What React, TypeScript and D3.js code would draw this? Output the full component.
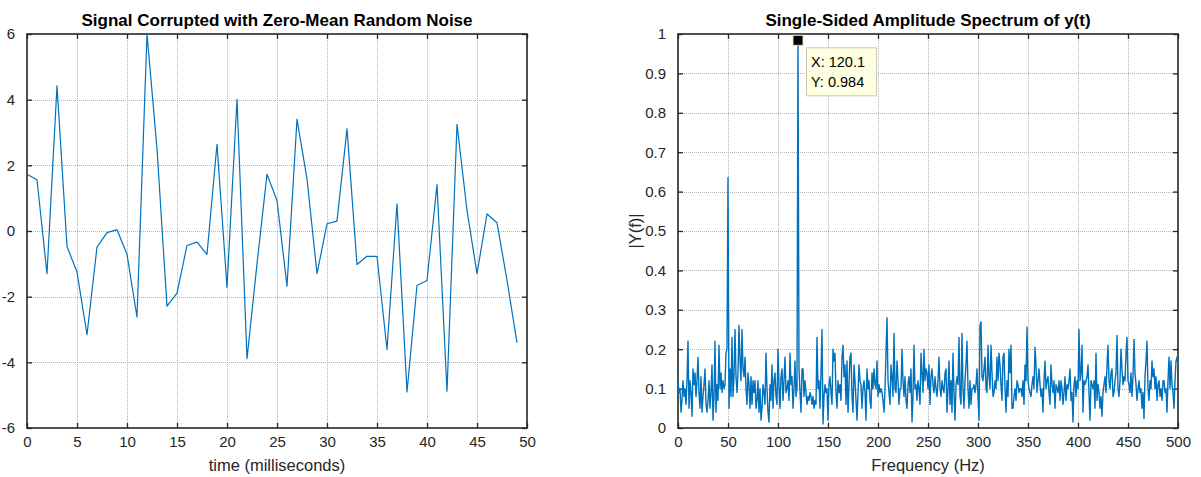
import React, { useEffect, useRef } from 'react';
import * as d3 from 'd3';

// time axis (ms) and the noisy signal
const timeMs = [0, 1, 2, 3, 4, 5, 6, 7, 8, 9, 10, 11, 12, 13, 14, 15, 16, 17, 18, 19,
  20, 21, 22, 23, 24, 25, 26, 27, 28, 29, 30, 31, 32, 33, 34, 35, 36, 37, 38, 39,
  40, 41, 42, 43, 44, 45, 46, 47, 48, 49];
const noisySignal = [1.73, 1.56, -1.3, 4.42, -0.47, -1.25, -3.16, -0.49, -0.05, 0.04,
  -0.71, -2.62, 6.0, 2.5, -2.29, -1.89, -0.44, -0.34, -0.71, 2.64,
  -1.71, 4.01, -3.89, -1.0, 1.73, 0.93, -1.68, 3.4, 1.59, -1.3,
  0.22, 0.3, 3.11, -1.02, -0.77, -0.77, -3.61, 0.83, -4.9, -1.66,
  -1.51, 1.41, -4.88, 3.25, 0.63, -1.3, 0.52, 0.25, -1.5, -3.41];

// single-sided amplitude, 0..500 Hz (one value per Hz)
const spectrumAmp = [
  0.12, 0.09, 0.10, 0.04, 0.07, 0.12, 0.08, 0.10, 0.06, 0.12,
  0.22, 0.05, 0.12, 0.09, 0.03, 0.15, 0.11, 0.14, 0.08, 0.12,
  0.18, 0.09, 0.05, 0.13, 0.04, 0.08, 0.11, 0.15, 0.06, 0.04,
  0.07, 0.12, 0.05, 0.09, 0.16, 0.02, 0.08, 0.22, 0.04, 0.11,
  0.07, 0.21, 0.10, 0.14, 0.09, 0.12, 0.10, 0.11, 0.19, 0.20,
  0.635, 0.05, 0.15, 0.08, 0.23, 0.08, 0.13, 0.25, 0.13, 0.09,
  0.14, 0.26, 0.17, 0.12, 0.25, 0.15, 0.13, 0.18, 0.10, 0.06,
  0.14, 0.11, 0.05, 0.13, 0.06, 0.12, 0.09, 0.12, 0.05, 0.07,
  0.12, 0.04, 0.10, 0.02, 0.05, 0.11, 0.09, 0.06, 0.19, 0.10,
  0.04, 0.015, 0.11, 0.07, 0.16, 0.05, 0.12, 0.14, 0.08, 0.06,
  0.20, 0.11, 0.05, 0.13, 0.15, 0.07, 0.12, 0.18, 0.09, 0.10,
  0.12, 0.07, 0.19, 0.11, 0.13, 0.05, 0.10, 0.17, 0.08, 0.10,
  0.984, 0.15, 0.09, 0.04, 0.15, 0.15, 0.08, 0.12, 0.09, 0.06,
  0.08, 0.07, 0.09, 0.08, 0.06, 0.08, 0.05, 0.07, 0.06, 0.23,
  0.10, 0.12, 0.05, 0.14, 0.25, 0.01, 0.08, 0.11, 0.09, 0.10,
  0.02, 0.11, 0.13, 0.09, 0.06, 0.20, 0.17, 0.19, 0.09, 0.05,
  0.12, 0.09, 0.11, 0.07, 0.18, 0.21, 0.13, 0.16, 0.06, 0.17,
  0.04, 0.11, 0.18, 0.19, 0.08, 0.04, 0.16, 0.12, 0.07, 0.02,
  0.09, 0.16, 0.12, 0.11, 0.05, 0.10, 0.12, 0.09, 0.02, 0.15,
  0.10, 0.12, 0.07, 0.05, 0.14, 0.10, 0.15, 0.11, 0.10, 0.17,
  0.08, 0.11, 0.09, 0.10, 0.09, 0.07, 0.04, 0.10, 0.19, 0.28,
  0.12, 0.09, 0.06, 0.16, 0.13, 0.08, 0.24, 0.10, 0.09, 0.17,
  0.12, 0.06, 0.10, 0.10, 0.20, 0.12, 0.08, 0.13, 0.07, 0.05,
  0.11, 0.13, 0.09, 0.15, 0.015, 0.08, 0.21, 0.10, 0.11, 0.07,
  0.12, 0.10, 0.06, 0.19, 0.14, 0.09, 0.20, 0.12, 0.15, 0.14,
  0.10, 0.16, 0.06, 0.13, 0.15, 0.11, 0.09, 0.13, 0.10, 0.08,
  0.12, 0.18, 0.10, 0.08, 0.12, 0.10, 0.09, 0.14, 0.15, 0.04,
  0.10, 0.17, 0.06, 0.12, 0.04, 0.19, 0.09, 0.02, 0.11, 0.13,
  0.11, 0.23, 0.08, 0.06, 0.24, 0.10, 0.05, 0.12, 0.16, 0.22,
  0.10, 0.05, 0.12, 0.06, 0.10, 0.10, 0.11, 0.09, 0.11, 0.15,
  0.08, 0.02, 0.26, 0.27, 0.13, 0.12, 0.15, 0.18, 0.10, 0.09,
  0.21, 0.13, 0.10, 0.21, 0.14, 0.08, 0.09, 0.12, 0.10, 0.18,
  0.12, 0.19, 0.16, 0.11, 0.07, 0.18, 0.19, 0.10, 0.04, 0.12,
  0.08, 0.20, 0.14, 0.21, 0.05, 0.05, 0.08, 0.10, 0.07, 0.12,
  0.11, 0.09, 0.10, 0.10, 0.08, 0.12, 0.06, 0.16, 0.12, 0.256,
  0.12, 0.10, 0.09, 0.08, 0.11, 0.13, 0.10, 0.205, 0.16, 0.09,
  0.12, 0.15, 0.11, 0.08, 0.10, 0.04, 0.12, 0.17, 0.10, 0.12,
  0.13, 0.09, 0.06, 0.16, 0.11, 0.09, 0.12, 0.05, 0.11, 0.10,
  0.09, 0.12, 0.07, 0.12, 0.10, 0.06, 0.09, 0.13, 0.07, 0.11,
  0.10, 0.12, 0.15, 0.07, 0.09, 0.015, 0.11, 0.13, 0.08, 0.12,
  0.10, 0.25, 0.12, 0.14, 0.21, 0.04, 0.12, 0.11, 0.12, 0.13,
  0.16, 0.09, 0.02, 0.12, 0.11, 0.10, 0.12, 0.05, 0.19, 0.07,
  0.11, 0.09, 0.05, 0.08, 0.03, 0.09, 0.11, 0.13, 0.09, 0.16,
  0.21, 0.12, 0.10, 0.14, 0.15, 0.08, 0.09, 0.12, 0.14, 0.235,
  0.10, 0.08, 0.12, 0.20, 0.15, 0.11, 0.13, 0.12, 0.19, 0.23,
  0.12, 0.11, 0.09, 0.14, 0.08, 0.13, 0.225, 0.14, 0.11, 0.07,
  0.10, 0.12, 0.09, 0.10, 0.05, 0.09, 0.024, 0.13, 0.17, 0.22,
  0.10, 0.07, 0.12, 0.10, 0.17, 0.13, 0.15, 0.10, 0.13, 0.07,
  0.11, 0.12, 0.08, 0.10, 0.07, 0.12, 0.12, 0.09, 0.10, 0.04,
  0.12, 0.18, 0.10, 0.17, 0.11, 0.09, 0.05, 0.12, 0.17, 0.18, 0.16,
];

const timeTicks = [0, 5, 10, 15, 20, 25, 30, 35, 40, 45, 50];
const signalTicks = [-6, -4, -2, 0, 2, 4, 6];
const freqTicks = [0, 50, 100, 150, 200, 250, 300, 350, 400, 450, 500];
const ampTicks = [0, 0.1, 0.2, 0.3, 0.4, 0.5, 0.6, 0.7, 0.8, 0.9, 1];

// data tip
const tipFreq = 120;
const tipAmp = 0.984;
const tipLines = ['X: 120.1', 'Y: 0.984'];

const FONT = '"Liberation Sans", Arial, Helvetica, sans-serif';
const INK = '#262626';
const BLUE = '#0072bd';

function drawAxes(svg, x, y, xTicks, yTicks, title, xLabel, yLabel) {
  const [x0, x1] = x.range();
  const [y0, y1] = y.range(); // bottom, top
  const fmt = d => String(+d.toFixed(2));

  // grid
  const grid = svg.append('g')
    .attr('stroke', '#b4b4b4')
    .attr('stroke-width', 1)
    .attr('stroke-dasharray', '1,1');
  grid.selectAll('.vg')
    .data(xTicks.slice(1, -1))
    .join('line')
    .attr('x1', d => Math.round(x(d)) + 0.5)
    .attr('x2', d => Math.round(x(d)) + 0.5)
    .attr('y1', y1)
    .attr('y2', y0);
  grid.selectAll('.hg')
    .data(yTicks.slice(1, -1))
    .join('line')
    .attr('y1', d => Math.round(y(d)) + 0.5)
    .attr('y2', d => Math.round(y(d)) + 0.5)
    .attr('x1', x0)
    .attr('x2', x1);

  const styleAxis = g => {
    g.select('.domain').remove();
    g.selectAll('line').attr('stroke', INK).attr('stroke-width', 1.3);
    g.selectAll('text')
      .attr('fill', INK)
      .style('font-family', FONT)
      .style('font-size', '15px');
  };

  svg.append('g')
    .attr('transform', `translate(0, ${y0})`)
    .call(d3.axisBottom(x).tickValues(xTicks).tickSizeInner(-5).tickSizeOuter(0).tickPadding(8).tickFormat(fmt))
    .call(styleAxis);
  svg.append('g')
    .attr('transform', `translate(0, ${y1})`)
    .call(d3.axisTop(x).tickValues(xTicks).tickSizeInner(-5).tickSizeOuter(0).tickFormat(() => ''))
    .call(styleAxis);
  svg.append('g')
    .attr('transform', `translate(${x0}, 0)`)
    .call(d3.axisLeft(y).tickValues(yTicks).tickSizeInner(-5).tickSizeOuter(0).tickPadding(12).tickFormat(fmt))
    .call(styleAxis);
  svg.append('g')
    .attr('transform', `translate(${x1}, 0)`)
    .call(d3.axisRight(y).tickValues(yTicks).tickSizeInner(-5).tickSizeOuter(0).tickFormat(() => ''))
    .call(styleAxis);

  svg.append('rect')
    .attr('x', x0)
    .attr('y', y1)
    .attr('width', x1 - x0)
    .attr('height', y0 - y1)
    .attr('fill', 'none')
    .attr('stroke', INK)
    .attr('stroke-width', 1.6);

  svg.append('text')
    .attr('x', (x0 + x1) / 2)
    .attr('y', 26)
    .attr('text-anchor', 'middle')
    .attr('fill', '#000')
    .style('font-family', FONT)
    .style('font-size', '17px')
    .style('font-weight', 'bold')
    .text(title);

  svg.append('text')
    .attr('x', (x0 + x1) / 2)
    .attr('y', 471)
    .attr('text-anchor', 'middle')
    .attr('fill', INK)
    .style('font-family', FONT)
    .style('font-size', '16.5px')
    .text(xLabel);

  if (yLabel) {
    const cy = (y0 + y1) / 2;
    svg.append('text')
      .attr('transform', `translate(${x0 - 37}, ${cy}) rotate(-90)`)
      .attr('text-anchor', 'middle')
      .attr('fill', INK)
      .style('font-family', FONT)
      .style('font-size', '16.5px')
      .text(yLabel);
  }
}

function SpectrumFigure({ width, height }) {
  const svgRef = useRef();

  useEffect(() => {
    const svg = d3.select(svgRef.current);
    svg.selectAll('*').remove();

    // left: time signal
    const xT = d3.scaleLinear().domain([0, 50]).range([27, 527]);
    const yT = d3.scaleLinear().domain([-6, 6]).range([428, 34]);
    drawAxes(svg, xT, yT, timeTicks, signalTicks,
      'Signal Corrupted with Zero-Mean Random Noise', 'time (milliseconds)', null);

    const sigLine = d3.line()
      .x((d, i) => xT(timeMs[i]))
      .y(d => yT(d));
    svg.append('path')
      .datum(noisySignal)
      .attr('d', sigLine)
      .attr('fill', 'none')
      .attr('stroke', BLUE)
      .attr('stroke-width', 1.2)
      .attr('stroke-linejoin', 'round');

    // right: amplitude spectrum
    const xF = d3.scaleLinear().domain([0, 500]).range([678, 1178]);
    const yF = d3.scaleLinear().domain([0, 1]).range([428, 34]);
    drawAxes(svg, xF, yF, freqTicks, ampTicks,
      'Single-Sided Amplitude Spectrum of y(t)', 'Frequency (Hz)', '|Y(f)|');

    const step = 500 / (spectrumAmp.length - 1);
    const ampLine = d3.line()
      .x((d, i) => xF(i * step))
      .y(d => yF(d));
    svg.append('path')
      .datum(spectrumAmp)
      .attr('d', ampLine)
      .attr('fill', 'none')
      .attr('stroke', BLUE)
      .attr('stroke-width', 1.4)
      .attr('stroke-linejoin', 'round');

    // data tip
    const mx = xF(tipFreq);
    const my = yF(tipAmp);
    svg.append('rect')
      .attr('x', mx - 5)
      .attr('y', my - 5)
      .attr('width', 10)
      .attr('height', 10)
      .attr('fill', '#000')
      .attr('stroke', '#e8e0b0')
      .attr('stroke-width', 1);

    const bx = mx + 8;
    const by = my + 7;
    svg.append('rect')
      .attr('x', bx + 0.5)
      .attr('y', by + 0.5)
      .attr('width', 70)
      .attr('height', 48)
      .attr('fill', '#ffffe1')
      .attr('stroke', '#c8c8b4')
      .attr('stroke-width', 1);
    svg.selectAll('.tip')
      .data(tipLines)
      .join('text')
      .attr('class', 'tip')
      .attr('x', bx + 5)
      .attr('y', (d, i) => by + 20 + i * 20)
      .attr('fill', '#000')
      .style('font-family', FONT)
      .style('font-size', '14.5px')
      .text(d => d);
  }, [width, height]);

  return (
    <svg
      ref={svgRef}
      width={width}
      height={height}
      style={{ position: 'absolute', left: 0, top: 0, background: '#fff' }}
    />
  );
}

export default function App() {
  return <SpectrumFigure width={1201} height={477} />;
}
